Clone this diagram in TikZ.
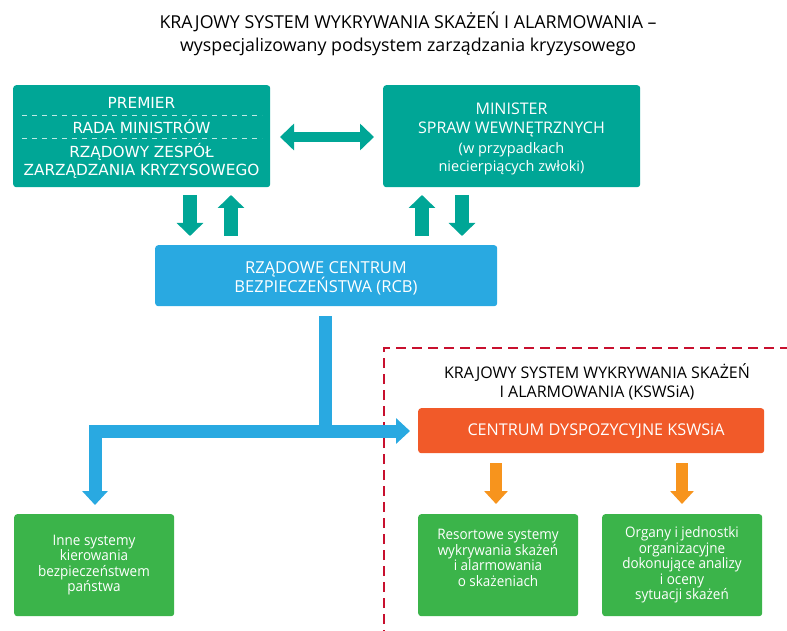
\documentclass[tikz,border=0pt]{standalone}
\usepackage{fontspec}
\usetikzlibrary{arrows.meta}
\setmainfont{Open Sans}
\newfontfamily\osr{Open Sans}
\newfontfamily\osc[FakeStretch=0.93]{Open Sans}
\newfontfamily\dvs{DejaVu Sans}
\definecolor{teal}{RGB}{0,166,150}
\definecolor{rcbblue}{RGB}{41,169,225}
\definecolor{kred}{RGB}{200,16,46}
\definecolor{korange}{RGB}{241,90,41}
\definecolor{karrow}{RGB}{247,148,29}
\definecolor{kgreen}{RGB}{59,180,74}
\tikzset{
  box/.style={rounded corners=3pt, inner sep=0pt, text=white, align=center, anchor=north west},
  tealbox/.style={box, fill=teal},
  greenbox/.style={box, fill=kgreen},
  wtext/.style={text=white, align=center, inner sep=0pt},
  greentext/.style={wtext, font=\osc\fontsize{14.5}{15.5}\selectfont},
  tealarrow/.style={draw=teal, line width=14pt, -{Triangle[width=26pt,length=13pt]}},
  dblarrow/.style={draw=teal, line width=10pt, {Triangle[width=26pt,length=14pt]}-{Triangle[width=26pt,length=14pt]}},
  bluearrow/.style={draw=rcbblue, line width=13pt, line join=miter, -{Triangle[width=25pt,length=14pt]}},
  orangearrow/.style={draw=karrow, line width=12pt, -{Triangle[width=23pt,length=13pt]}},
}
\begin{document}
\begin{tikzpicture}[x=1pt,y=-1pt]
\useasboundingbox (0,0) rectangle (787,631);
% title
\node[font=\osr\fontsize{17.8}{23}\selectfont, align=center, text=black] (title) at (408,34)
  {KRAJOWY SYSTEM WYKRYWANIA SKAŻEŃ I ALARMOWANIA –\\wyspecjalizowany podsystem zarządzania kryzysowego};
% top boxes
\node[tealbox, minimum width=257pt, minimum height=102pt] (pm) at (13,85) {};
\node[wtext, font=\dvs\fontsize{15.3}{16}\selectfont] (pm1) at (141.5,102.5) {PREMIER};
\node[wtext, font=\dvs\fontsize{15.3}{16}\selectfont] (pm2) at (141.5,127) {RADA MINISTRÓW};
\node[wtext, font=\dvs\fontsize{15.3}{18}\selectfont] (pm3) at (141.5,160.5)
  {RZĄDOWY ZESPÓŁ\\ZARZĄDZANIA KRYZYSOWEGO};
\draw[white!75!teal, dash pattern=on 5pt off 5pt, line width=0.8pt] (22,115) -- (262,115);
\draw[white!75!teal, dash pattern=on 5pt off 5pt, line width=0.8pt] (22,138) -- (262,138);

\node[tealbox, minimum width=257pt, minimum height=102pt] (msw) at (383,85) {};
\node[wtext, font=\osr\fontsize{16}{19}\selectfont] (msw1) at (511.5,119.5)
  {MINISTER\\SPRAW WEWNĘTRZNYCH};
\node[wtext, font=\osr\fontsize{14.5}{17.5}\selectfont] (msw2) at (511.5,158.5)
  {(w przypadkach\\niecierpiących zwłoki)};

\coordinate (da1) at (280,137);
\coordinate (da2) at (374,137);
\draw[dblarrow] (da1) -- (da2);

% RCB
\node[box, fill=rcbblue, minimum width=342pt, minimum height=61pt] (rcb) at (155,245) {};
\node[wtext, font=\osr\fontsize{16.5}{19}\selectfont] (rcbt) at (326,278.5)
  {RZĄDOWE CENTRUM\\BEZPIECZEŃSTWA (RCB)};

% teal vertical arrows
\coordinate (a1s) at (190,195); \coordinate (a1e) at (190,236);
\coordinate (a2s) at (231,236); \coordinate (a2e) at (231,195);
\coordinate (a3s) at (422,236); \coordinate (a3e) at (422,195);
\coordinate (a4s) at (462,195); \coordinate (a4e) at (462,236);
\draw[tealarrow] (a1s) -- (a1e);
\draw[tealarrow] (a2s) -- (a2e);
\draw[tealarrow] (a3s) -- (a3e);
\draw[tealarrow] (a4s) -- (a4e);

% red dashed frame
\draw[kred, line width=2pt, dash pattern=on 10pt off 6pt] (384,640) -- (384,348) -- (795,348);

\node[text=black, font=\osr\fontsize{16}{19.5}\selectfont, align=center] (kl) at (597,382)
  {KRAJOWY SYSTEM WYKRYWANIA SKAŻEŃ\\I ALARMOWANIA (KSWSiA)};

% orange box
\node[box, fill=korange, minimum width=346pt, minimum height=45pt] (cd) at (418,408) {};
\node[wtext, font=\osr\fontsize{16.2}{19}\selectfont] (cdt) at (596,431) {CENTRUM DYSPOZYCYJNE KSWSiA};

% blue connector
\coordinate (b0) at (325,316);
\coordinate (b1) at (325,431);
\coordinate (bl) at (95,431);
\coordinate (br) at (410,431);
\coordinate (bd) at (95,505);
\draw[draw=rcbblue, line width=13pt] (b0) -- (b1);
\draw[bluearrow] (bl) -- (br);
\draw[bluearrow] (b1) -- (bl) -- (bd);

% orange arrows
\coordinate (o1s) at (496,463); \coordinate (o1e) at (496,504);
\coordinate (o2s) at (682,463); \coordinate (o2e) at (682,504);
\draw[orangearrow] (o1s) -- (o1e);
\draw[orangearrow] (o2s) -- (o2e);

% green boxes
\node[greenbox, minimum width=160pt, minimum height=102pt] (g1) at (14,514) {};
\node[greentext] (g1t) at (94,565)
  {Inne systemy\\kierowania\\bezpieczeństwem\\państwa};
\node[greenbox, minimum width=160pt, minimum height=102pt] (g2) at (418,514) {};
\node[greentext] (g2t) at (498,558)
  {Resortowe systemy\\wykrywania skażeń\\i alarmowania\\o skażeniach};
\node[greenbox, minimum width=160pt, minimum height=102pt] (g3) at (602,514) {};
\node[greentext] (g3t) at (682,565)
  {Organy i jednostki\\organizacyjne\\dokonujące analizy\\i oceny\\sytuacji skażeń};
\end{tikzpicture}
\end{document}
